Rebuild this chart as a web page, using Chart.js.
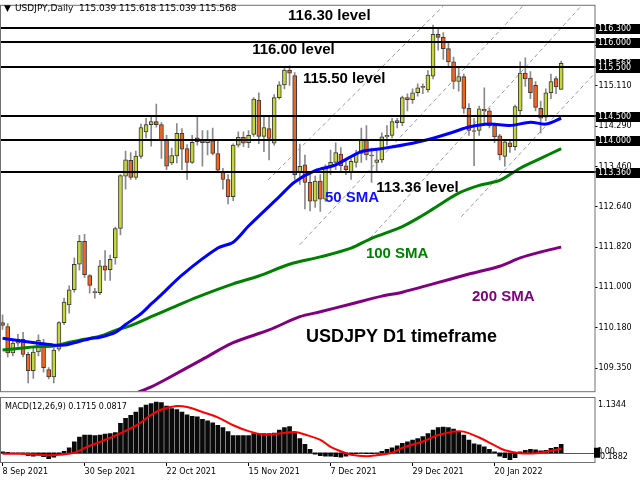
<!DOCTYPE html>
<html>
<head>
<meta charset="utf-8">
<script src="https://cdn.jsdelivr.net/npm/chart.js@4.4.1/dist/chart.umd.min.js"></script>
<style>
html, body { margin: 0; padding: 0; background: #fff; }
#wrap { position: relative; width: 640px; height: 480px; overflow: hidden; }
canvas { position: absolute; left: 0; }
#main { top: 0; }
#macd { top: 397px; }
</style>
</head>
<body>
<div id="wrap">
  <canvas id="main" width="640" height="397" style="width:640px;height:397px"></canvas>
  <canvas id="macd" width="640" height="83" style="width:640px;height:83px"></canvas>
</div>
<script>
// trading days shown on the chart
var dates = [
  '8 Sep 2021','9 Sep 2021','10 Sep 2021','13 Sep 2021','14 Sep 2021','15 Sep 2021','16 Sep 2021','17 Sep 2021',
  '20 Sep 2021','21 Sep 2021','22 Sep 2021','23 Sep 2021','24 Sep 2021','27 Sep 2021','28 Sep 2021','29 Sep 2021','30 Sep 2021',
  '1 Oct 2021','4 Oct 2021','5 Oct 2021','6 Oct 2021','7 Oct 2021','8 Oct 2021','11 Oct 2021','12 Oct 2021','13 Oct 2021',
  '14 Oct 2021','15 Oct 2021','18 Oct 2021','19 Oct 2021','20 Oct 2021','21 Oct 2021','22 Oct 2021','25 Oct 2021',
  '26 Oct 2021','27 Oct 2021','28 Oct 2021','29 Oct 2021',
  '1 Nov 2021','2 Nov 2021','3 Nov 2021','4 Nov 2021','5 Nov 2021','8 Nov 2021','9 Nov 2021','10 Nov 2021','11 Nov 2021',
  '12 Nov 2021','15 Nov 2021','16 Nov 2021','17 Nov 2021','18 Nov 2021','19 Nov 2021','22 Nov 2021','23 Nov 2021',
  '24 Nov 2021','25 Nov 2021','26 Nov 2021','29 Nov 2021','30 Nov 2021',
  '1 Dec 2021','2 Dec 2021','3 Dec 2021','6 Dec 2021','7 Dec 2021','8 Dec 2021','9 Dec 2021','10 Dec 2021','13 Dec 2021',
  '14 Dec 2021','15 Dec 2021','16 Dec 2021','17 Dec 2021','20 Dec 2021','21 Dec 2021','22 Dec 2021','23 Dec 2021',
  '24 Dec 2021','27 Dec 2021','28 Dec 2021','29 Dec 2021','30 Dec 2021','31 Dec 2021',
  '3 Jan 2022','4 Jan 2022','5 Jan 2022','6 Jan 2022','7 Jan 2022','10 Jan 2022','11 Jan 2022','12 Jan 2022','13 Jan 2022',
  '14 Jan 2022','17 Jan 2022','18 Jan 2022','19 Jan 2022','20 Jan 2022','21 Jan 2022','24 Jan 2022','25 Jan 2022',
  '26 Jan 2022','27 Jan 2022','28 Jan 2022','31 Jan 2022',
  '1 Feb 2022','2 Feb 2022','3 Feb 2022','4 Feb 2022','7 Feb 2022','8 Feb 2022'
];
var tickLabels = ['8 Sep 2021','30 Sep 2021','22 Oct 2021','15 Nov 2021','7 Dec 2021','29 Dec 2021','20 Jan 2022'];

var open = [
  110.28,110.20,109.66,109.86,109.94,109.63,109.30,109.68,109.86,109.32,109.17,109.74,110.28,110.64,110.95,111.47,111.94,
  111.24,110.90,110.89,111.44,111.36,111.60,112.20,113.27,113.59,113.24,113.67,114.17,114.32,114.38,114.32,114.02,113.54,
  113.68,114.14,113.83,113.55,
  114.05,114.00,113.95,113.99,113.73,113.35,113.20,112.85,113.90,114.06,113.95,114.12,114.82,114.08,114.24,113.94,114.87,
  115.13,115.43,115.32,113.35,113.50,
  113.14,112.76,113.17,112.80,113.47,113.55,113.72,113.48,113.35,113.55,113.73,114.00,113.70,113.55,113.60,114.07,114.10,
  114.40,114.36,114.87,114.83,114.97,115.09,
  115.03,115.31,116.16,116.10,115.87,115.60,115.20,115.30,114.65,114.18,114.20,114.63,114.60,114.30,114.09,113.67,113.95,
  113.87,114.60,115.37,115.27,
  115.12,114.65,114.47,114.97,115.26,115.039
];
var high = [
  110.44,110.26,109.90,110.04,110.08,109.68,109.76,110.03,109.94,109.36,109.76,110.30,110.78,111.03,111.60,112.06,112.08,
  111.26,110.98,111.55,111.75,111.66,112.23,113.30,113.78,113.75,113.78,114.33,114.45,114.50,114.74,114.36,114.10,113.84,
  114.34,114.24,113.91,114.10,
  114.47,114.20,114.20,114.25,113.98,113.43,113.30,113.93,114.17,114.17,114.20,114.87,114.97,114.50,114.50,114.93,115.20,
  115.50,115.52,115.38,113.92,113.70,
  113.36,113.27,113.30,113.50,113.80,113.95,113.85,113.60,113.62,113.80,114.25,114.30,113.84,113.80,114.15,114.30,114.45,
  114.45,114.90,114.95,115.05,115.15,115.15,
  115.42,116.35,116.30,116.20,116.00,115.70,115.50,115.35,114.75,114.45,114.70,115.07,114.65,114.35,114.12,114.00,114.00,
  114.72,115.60,115.68,115.40,
  115.20,114.80,115.05,115.35,115.30,115.618
];
var low = [
  110.14,109.58,109.60,109.80,109.58,109.05,109.14,109.60,109.27,109.13,109.05,109.70,110.24,110.47,110.90,111.35,111.20,
  110.88,110.78,110.85,111.14,111.14,111.47,112.07,113.00,113.20,113.20,113.63,114.05,113.88,114.27,113.63,113.40,113.50,
  113.54,113.40,113.20,113.53,
  113.90,113.47,113.70,113.70,113.36,113.00,112.70,112.77,113.86,113.87,113.85,114.08,113.93,113.77,113.60,113.90,114.84,
  115.05,115.12,113.20,113.10,112.60,
  112.56,112.63,112.55,112.75,113.30,113.40,113.35,113.30,113.20,113.45,113.55,113.60,113.14,113.35,113.55,113.90,114.05,
  114.25,114.30,114.60,114.75,114.90,114.95,
  114.98,115.25,115.84,115.65,115.50,115.05,115.00,114.55,114.10,113.48,114.10,114.30,114.25,113.95,113.60,113.47,113.75,
  113.80,114.50,115.10,114.85,
  114.60,114.15,114.40,114.85,114.95,115.039
];
var close = [
  110.22,109.66,109.86,109.94,109.63,109.30,109.68,109.92,109.36,109.17,109.72,110.28,110.70,110.95,111.47,111.94,111.26,
  111.04,110.89,111.44,111.35,111.57,112.20,113.28,113.60,113.24,113.68,114.26,114.32,114.38,114.32,114.00,113.47,113.69,
  114.14,113.82,113.55,113.96,
  113.97,113.95,114.00,113.73,113.39,113.20,112.85,113.90,114.06,113.94,114.10,114.84,114.08,114.26,114.04,114.87,115.13,
  115.43,115.37,113.30,113.47,113.14,
  112.76,113.17,112.80,113.45,113.55,113.75,113.48,113.40,113.57,113.73,114.00,113.70,113.68,113.60,114.07,114.10,114.38,
  114.36,114.87,114.83,114.97,115.07,115.08,
  115.33,116.16,116.10,115.87,115.60,115.20,115.30,114.65,114.20,114.20,114.64,114.60,114.30,114.07,113.70,113.97,113.87,
  114.69,115.37,115.25,114.97,
  114.67,114.45,114.97,115.20,115.09,115.568
];

// moving averages at these bars
var sma50At = [0,4,7,10,12,14,17,19,22,24,27,29,31,35,42,45,48,54,57,61,65,70,74,80,84,88,91,95,99,103,106,109];
var sma50 = [109.96,109.90,109.86,109.82,109.82,109.87,109.95,109.98,110.08,110.24,110.46,110.66,110.85,111.25,111.80,
  111.92,112.25,112.85,113.15,113.38,113.50,113.77,113.83,113.94,114.04,114.17,114.27,114.33,114.30,114.37,114.33,114.45];
var sma100At = [0,4,7,10,13,16,19,22,25,29,33,38,45,50,56,62,68,72,78,82,84,89,93,97,101,105,109];
var sma100 = [109.72,109.76,109.79,109.80,109.88,109.94,110.00,110.12,110.22,110.40,110.58,110.80,111.07,111.23,111.47,
  111.62,111.80,112.00,112.24,112.47,112.60,112.92,113.08,113.18,113.43,113.63,113.83];
var sma200At = [26,29,32,39,45,52,58,62,68,74,78,84,91,97,101,105,109];
var sma200 = [108.84,108.97,109.13,109.53,109.87,110.13,110.40,110.50,110.66,110.82,110.90,111.07,111.27,111.43,111.60,
  111.72,111.82];

// MACD(12,26,9): main as histogram, signal as line
var macdHist = [
  0.02,0.01,0.00,-0.01,-0.03,-0.06,-0.07,-0.05,-0.08,-0.12,-0.09,-0.04,0.03,0.10,0.22,0.32,0.36,
  0.36,0.35,0.36,0.38,0.39,0.41,0.60,0.70,0.76,0.83,0.92,0.97,1.00,1.03,1.02,0.95,0.90,0.88,0.83,0.77,0.74,
  0.73,0.68,0.65,0.61,0.56,0.51,0.43,0.35,0.35,0.35,0.35,0.39,0.39,0.39,0.39,0.40,0.46,0.51,0.53,0.40,0.29,0.17,
  0.07,-0.03,-0.06,-0.07,-0.07,-0.08,-0.09,-0.07,-0.03,-0.02,-0.01,-0.02,-0.02,-0.01,0.03,0.07,0.10,0.14,0.19,0.22,0.26,0.29,0.33,
  0.39,0.46,0.51,0.52,0.51,0.48,0.43,0.36,0.26,0.18,0.16,0.12,0.07,0.02,-0.07,-0.10,-0.14,-0.10,0.02,0.05,0.07,
  0.06,0.04,0.05,0.09,0.11,0.17
];
var signalAt = [0,4,9,14,16,19,22,26,29,31,34,36,39,42,45,48,51,54,57,59,62,64,66,68,71,73,76,78,82,85,88,90,93,96,98,101,104,107,109];
var signal = [-0.02,-0.02,-0.05,0.00,0.10,0.22,0.35,0.55,0.77,0.88,0.95,0.93,0.83,0.72,0.56,0.44,0.37,0.39,0.42,0.37,
  0.26,0.12,0.03,-0.04,-0.07,-0.05,0.00,0.10,0.23,0.36,0.43,0.43,0.31,0.15,0.05,-0.01,-0.01,0.04,0.08];

// horizontal levels and right-axis ticks
var levels = [116.30, 116.00, 115.50, 114.50, 114.00, 113.36];
var priceTicks = [109.35, 110.18, 111.00, 111.82, 112.64, 113.46, 114.29, 115.11, 115.93];
var lastPrice = 115.568;

// dashed channel: [bar, price] -> [bar, price]
var channel = [
  [51.8, 113.19, 86.0, 116.74],
  [58.0, 111.87, 101.5, 116.74],
  [71.7, 112.00, 112.9, 116.74],
  [89.5, 112.44, 115.5, 115.36]
];

var notes = [
  { text: '116.30 level', i: 55.7, p: 116.53, color: '#000', size: 15 },
  { text: '116.00 level', i: 48.7, p: 115.85, color: '#000', size: 15 },
  { text: '115.50 level', i: 58.6, p: 115.25, color: '#000', size: 15 },
  { text: '113.36 level', i: 72.9, p: 113.02, color: '#000', size: 15 },
  { text: '50 SMA', i: 62.9, p: 112.82, color: '#1010ff', size: 15 },
  { text: '100 SMA', i: 70.9, p: 111.69, color: '#008000', size: 15 },
  { text: '200 SMA', i: 91.6, p: 110.81, color: '#800080', size: 15 },
  { text: 'USDJPY D1 timeframe', i: 59.2, p: 109.99, color: '#000', size: 18 }
];

var BULL = '#c6d63a', BEAR = '#f4641e';
var SMALL = '8px "DejaVu Sans", sans-serif';
var N = dates.length;
var cats = dates.concat(['', '', '', '', '', '']);

function spread(at, vals) {
  var a = new Array(N).fill(null);
  at.forEach(function (k, j) { a[k] = vals[j]; });
  return a;
}

var wicks = high.map(function (h, i) { return [low[i], h]; });
var bodies = open.map(function (o, i) { return [Math.min(o, close[i]), Math.max(o, close[i])]; });
var bodyColors = open.map(function (o, i) { return close[i] >= o ? BULL : BEAR; });

function fixWidth(s) { s.width = 45.5; }

var mainDeco = {
  id: 'mainDeco',
  beforeDatasetsDraw: function (chart) {
    var ctx = chart.ctx, a = chart.chartArea, x = chart.scales.x, y = chart.scales.y;
    ctx.save();
    ctx.beginPath();
    ctx.rect(a.left, a.top, a.right - a.left, a.bottom - a.top);
    ctx.clip();
    ctx.strokeStyle = '#9a9a9a';
    ctx.lineWidth = 1;
    ctx.setLineDash([4, 3]);
    channel.forEach(function (c) {
      ctx.beginPath();
      ctx.moveTo(x.getPixelForValue(c[0]), y.getPixelForValue(c[1]));
      ctx.lineTo(x.getPixelForValue(c[2]), y.getPixelForValue(c[3]));
      ctx.stroke();
    });
    ctx.restore();
  },
  afterDatasetsDraw: function (chart) {
    var ctx = chart.ctx, y = chart.scales.y;
    ctx.save();
    ctx.strokeStyle = '#000';
    ctx.lineWidth = 2;
    levels.forEach(function (v) {
      var py = Math.round(y.getPixelForValue(v));
      ctx.beginPath();
      ctx.moveTo(0, py);
      ctx.lineTo(597, py);
      ctx.stroke();
    });
    ctx.restore();
  },
  afterDraw: function (chart) {
    var ctx = chart.ctx, a = chart.chartArea, x = chart.scales.x, y = chart.scales.y;
    ctx.save();
    // frame
    ctx.strokeStyle = '#707070';
    ctx.lineWidth = 1;
    ctx.strokeRect(a.left + 0.5, a.top - 0.5, a.right - a.left, a.bottom - a.top + 1);
    // price boxes on the axis
    ctx.font = SMALL;
    ctx.textBaseline = 'middle';
    ctx.textAlign = 'left';
    [lastPrice].concat(levels).forEach(function (v) {
      var py = Math.round(y.getPixelForValue(v)) + 1;
      ctx.fillStyle = '#000';
      ctx.fillRect(596, py - 5, 44, 10);
      ctx.fillStyle = '#fff';
      ctx.fillText(v.toFixed(3), 598, py);
    });
    // header
    ctx.fillStyle = '#000';
    ctx.font = '9px "DejaVu Sans", sans-serif';
    ctx.fillText('\u25BC', 4, 8.5);
    ctx.fillText('USDJPY,Daily  115.039 115.618 115.039 115.568', 15, 8.5);
    // notes
    notes.forEach(function (n) {
      ctx.font = 'bold ' + n.size + 'px "Liberation Sans", Arial, sans-serif';
      ctx.fillStyle = n.color;
      ctx.fillText(n.text, x.getPixelForValue(n.i), y.getPixelForValue(n.p));
    });
    ctx.restore();
  }
};

new Chart(document.getElementById('main'), {
  type: 'bar',
  data: {
    labels: cats,
    datasets: [
      { type: 'line', label: 'SMA 50', data: spread(sma50At, sma50), borderColor: '#0000ff', borderWidth: 3,
        pointRadius: 0, spanGaps: true, tension: 0.3, order: 0 },
      { type: 'line', label: 'SMA 100', data: spread(sma100At, sma100), borderColor: '#008000', borderWidth: 3,
        pointRadius: 0, spanGaps: true, tension: 0.3, order: 0 },
      { type: 'line', label: 'SMA 200', data: spread(sma200At, sma200), borderColor: '#800080', borderWidth: 3,
        pointRadius: 0, spanGaps: true, tension: 0.3, order: 0 },
      { label: 'body', data: bodies, backgroundColor: bodyColors, borderColor: '#3a3a3a', borderWidth: 1,
        borderSkipped: false, barThickness: 4, minBarLength: 1, grouped: false, order: 1 },
      { label: 'wick', data: wicks, backgroundColor: '#8a8a8a', barThickness: 1, grouped: false, order: 2 }
    ]
  },
  options: {
    responsive: false,
    animation: false,
    events: [],
    layout: { padding: { top: 1, bottom: 1, left: 0, right: 0 } },
    plugins: { legend: { display: false }, tooltip: { enabled: false } },
    scales: {
      x: { display: false, offset: true },
      y: {
        position: 'right',
        min: 108.88,
        max: 116.744,
        afterFit: fixWidth,
        afterBuildTicks: function (s) { s.ticks = priceTicks.map(function (v) { return { value: v }; }); },
        ticks: {
          font: { family: 'DejaVu Sans', size: 8 },
          color: '#000',
          padding: 1,
          callback: function (v) { return Number(v).toFixed(3); }
        },
        grid: { drawOnChartArea: false, tickLength: 3, color: '#000' },
        border: { display: false }
      }
    }
  },
  plugins: [mainDeco]
});

var macdDeco = {
  id: 'macdDeco',
  beforeDatasetsDraw: function (chart) {
    var ctx = chart.ctx, a = chart.chartArea, y = chart.scales.y;
    var py = Math.round(y.getPixelForValue(0)) + 0.5;
    ctx.save();
    ctx.strokeStyle = '#555';
    ctx.lineWidth = 1;
    ctx.beginPath();
    ctx.moveTo(a.left, py);
    ctx.lineTo(a.right, py);
    ctx.stroke();
    ctx.restore();
  },
  afterDraw: function (chart) {
    var ctx = chart.ctx, a = chart.chartArea, y = chart.scales.y;
    ctx.save();
    ctx.strokeStyle = '#707070';
    ctx.lineWidth = 1;
    ctx.strokeRect(a.left + 0.5, a.top + 0.5, a.right - a.left, a.bottom - a.top);
    ctx.font = SMALL;
    ctx.textBaseline = 'middle';
    ctx.textAlign = 'left';
    ctx.fillStyle = '#000';
    ctx.fillText('MACD(12,26,9) 0.1715 0.0817', 5, 9.5);
    ctx.fillText('1.1344', 598, 8);
    ctx.fillText('-0.1882', 597, 60);
    ctx.fillText('0.00', 597, y.getPixelForValue(0) - 1);
    ctx.fillRect(594, y.getPixelForValue(0) - 5, 6, 10);
    ctx.restore();
  }
};

new Chart(document.getElementById('macd'), {
  type: 'bar',
  data: {
    labels: cats,
    datasets: [
      { type: 'line', label: 'Signal', data: spread(signalAt, signal), borderColor: '#ff0000', borderWidth: 2,
        pointRadius: 0, spanGaps: true, tension: 0.4, order: 0 },
      { label: 'MACD', data: macdHist, backgroundColor: '#0a0a0a', barThickness: 4, order: 1 }
    ]
  },
  options: {
    responsive: false,
    animation: false,
    events: [],
    layout: { padding: { top: 0, bottom: 0, left: 0, right: 0 } },
    plugins: { legend: { display: false }, tooltip: { enabled: false } },
    scales: {
      x: {
        offset: true,
        afterFit: function (s) { s.height = 18; },
        ticks: {
          autoSkip: false,
          maxRotation: 0,
          align: 'start',
          padding: 1,
          font: { family: 'DejaVu Sans', size: 8 },
          color: '#000',
          callback: function (v, i) { return tickLabels.indexOf(dates[i]) >= 0 ? dates[i] : ''; }
        },
        grid: {
          drawOnChartArea: false,
          offset: false,
          tickLength: 4,
          color: function (c) { return tickLabels.indexOf(dates[c.index]) >= 0 ? '#000' : 'rgba(0,0,0,0)'; }
        },
        border: { display: false }
      },
      y: {
        position: 'right',
        min: -0.1882,
        max: 1.1344,
        afterFit: fixWidth,
        ticks: { display: false },
        grid: { display: false },
        border: { display: false }
      }
    }
  },
  plugins: [macdDeco]
});
</script>
</body>
</html>
